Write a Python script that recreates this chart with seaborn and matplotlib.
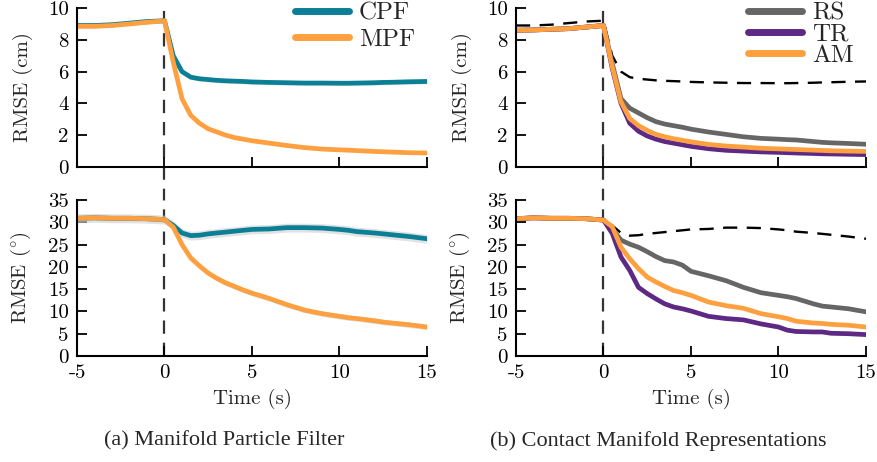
import numpy as np
import pandas as pd
import matplotlib
matplotlib.use("Agg")
import matplotlib.pyplot as plt
from matplotlib import font_manager as fm
import seaborn as sns

# time stamps (s)
t = [-5, -4, -3, -2, -1, 0, 0.5, 1, 1.5, 2, 2.5, 3, 3.5, 4, 4.5, 5, 6, 7, 8, 9,
     10, 10.5, 11, 12, 12.5, 13, 14, 15]

# position error (cm)
cpf_cm = [8.9, 8.9, 8.95, 9.05, 9.15, 9.2, 7.0, 6.0, 5.65, 5.55, 5.5, 5.45, 5.42, 5.4, 5.38, 5.35,
          5.32, 5.3, 5.28, 5.28, 5.27, 5.27, 5.28, 5.3, 5.32, 5.33, 5.36, 5.38]
mpf_cm = [8.85, 8.85, 8.9, 9.0, 9.1, 9.2, 6.6, 4.3, 3.25, 2.75, 2.4, 2.2, 2.0, 1.85, 1.75, 1.65,
          1.5, 1.35, 1.22, 1.13, 1.08, 1.06, 1.03, 0.98, 0.96, 0.94, 0.9, 0.88]
rs_cm = [8.6, 8.62, 8.66, 8.7, 8.8, 8.9, 6.5, 4.3, 3.7, 3.4, 3.1, 2.85, 2.7, 2.6, 2.5, 2.38,
         2.2, 2.05, 1.9, 1.8, 1.75, 1.72, 1.7, 1.6, 1.55, 1.52, 1.48, 1.43]
tr_cm = [8.6, 8.62, 8.66, 8.7, 8.8, 8.9, 6.2, 4.0, 2.75, 2.25, 1.95, 1.75, 1.6, 1.5, 1.4, 1.3,
         1.15, 1.05, 1.0, 0.95, 0.92, 0.9, 0.88, 0.85, 0.83, 0.82, 0.8, 0.78]
am_cm = [8.6, 8.62, 8.66, 8.7, 8.8, 8.9, 6.3, 4.1, 3.05, 2.6, 2.3, 2.05, 1.9, 1.78, 1.68, 1.58,
         1.42, 1.32, 1.25, 1.18, 1.14, 1.12, 1.1, 1.06, 1.04, 1.02, 1.0, 0.98]

# orientation error (deg)
cpf_deg = [30.9, 31.0, 30.9, 30.9, 30.8, 30.6, 29.3, 27.6, 27.0, 27.1, 27.4, 27.6, 27.8, 28.0, 28.2, 28.4,
           28.5, 28.8, 28.8, 28.7, 28.4, 28.2, 27.9, 27.6, 27.4, 27.2, 26.8, 26.3]
mpf_deg = [30.9, 31.0, 30.9, 30.9, 30.8, 30.6, 28.9, 25.0, 22.0, 20.2, 18.6, 17.4, 16.4, 15.6, 14.8, 14.1,
           12.9, 11.5, 10.3, 9.5, 8.9, 8.6, 8.4, 7.9, 7.6, 7.4, 7.0, 6.5]
rs_deg = [30.8, 31.0, 30.9, 30.9, 30.8, 30.5, 28.5, 26.0, 25.1, 24.4, 23.4, 22.3, 21.4, 21.1, 20.4, 19.0,
          18.0, 16.9, 15.4, 14.2, 13.6, 13.3, 12.9, 11.7, 11.2, 11.0, 10.6, 9.9]
tr_deg = [30.8, 31.0, 30.9, 30.9, 30.8, 30.5, 27.5, 22.2, 19.2, 15.4, 14.0, 12.8, 11.7, 11.0, 10.6, 10.1,
          8.9, 8.4, 8.1, 7.2, 6.5, 5.8, 5.5, 5.4, 5.4, 5.1, 5.0, 4.8]
am_deg = [30.8, 31.0, 30.9, 30.9, 30.8, 30.5, 29.0, 24.4, 21.8, 19.6, 17.7, 16.6, 15.6, 14.7, 14.2, 13.6,
          12.1, 11.3, 10.7, 9.5, 8.8, 8.4, 7.8, 7.4, 7.3, 7.1, 6.9, 6.5]

# half-width of the shaded band (left panels)
band_cm = [0.15, 0.1]
band_deg = [1.0, 0.6]

C_CPF = "#0b7f96"
C_MPF = "#ffa040"
C_RS = "#666666"
C_TR = "#5d2984"
C_AM = "#ffa040"

sns.set_theme(style="ticks")
plt.rcParams["font.family"] = ["cmr10", "DejaVu Serif"]
plt.rcParams["mathtext.fontset"] = "cm"
plt.rcParams["axes.unicode_minus"] = False

df = pd.DataFrame({"t": t, "cpf_cm": cpf_cm, "mpf_cm": mpf_cm, "rs_cm": rs_cm, "tr_cm": tr_cm,
                   "am_cm": am_cm, "cpf_deg": cpf_deg, "mpf_deg": mpf_deg, "rs_deg": rs_deg,
                   "tr_deg": tr_deg, "am_deg": am_deg})

fig = plt.figure(figsize=(8.78, 4.62), dpi=100)
W = 350 / 878
ax_tl = fig.add_axes([77 / 878, 1 - 167 / 462, W, 159 / 462])
ax_bl = fig.add_axes([77 / 878, 1 - 356 / 462, W, 156 / 462])
ax_tr = fig.add_axes([516 / 878, 1 - 167 / 462, W, 159 / 462])
ax_br = fig.add_axes([516 / 878, 1 - 356 / 462, W, 156 / 462])

lw = 3.4
FS = 15

# left: manifold particle filter
for ax, unit, band in [(ax_tl, "cm", band_cm), (ax_bl, "deg", band_deg)]:
    for (name, col), b in zip([("cpf", C_CPF), ("mpf", C_MPF)], band):
        y = df[f"{name}_{unit}"]
        ax.fill_between(df["t"], y - b, y + b, color="#d0d0d0", alpha=0.6, lw=0)
        sns.lineplot(data=df, x="t", y=f"{name}_{unit}", ax=ax, color=col, lw=lw,
                     label=name.upper() if unit == "cm" else None)

# right: contact manifold representations
for ax, unit in [(ax_tr, "cm"), (ax_br, "deg")]:
    sns.lineplot(data=df, x="t", y=f"cpf_{unit}", ax=ax, color="black", lw=1.7,
                 linestyle=(0, (6, 4)))
    for name, col in [("rs", C_RS), ("tr", C_TR), ("am", C_AM)]:
        sns.lineplot(data=df, x="t", y=f"{name}_{unit}", ax=ax, color=col, lw=lw,
                     label=name.upper() if unit == "cm" else None)

for ax in [ax_tl, ax_tr, ax_bl, ax_br]:
    ax.set_xlim(-5, 15)
    ax.set_xticks([-5, 0, 5, 10, 15])
    sns.despine(ax=ax)
    for s in ["left", "bottom"]:
        ax.spines[s].set_linewidth(1.5)
        ax.spines[s].set_color("black")
    ax.tick_params(direction="in", length=7, width=1.3, labelsize=FS, pad=6, colors="black")
    ax.set_xlabel("")

for ax in [ax_tl, ax_tr]:
    ax.set_ylim(0, 10)
    ax.set_yticks([0, 2, 4, 6, 8, 10])
    ax.tick_params(labelbottom=False)
    ax.set_ylabel("RMSE (cm)", fontsize=FS)
    ax.axvline(0, ymin=-0.22, ymax=1, color="#333333", lw=1.6, linestyle=(0, (6, 4)),
               clip_on=False, zorder=0)

for ax in [ax_bl, ax_br]:
    ax.set_ylim(0, 35)
    ax.set_yticks([0, 5, 10, 15, 20, 25, 30, 35])
    ax.set_ylabel(r"RMSE ($^{\circ}$)", fontsize=FS)
    ax.set_xlabel("Time (s)", fontsize=FS, labelpad=5)
    ax.axvline(0, color="#333333", lw=1.6, linestyle=(0, (6, 4)), zorder=0)

for ax in [ax_tl, ax_bl, ax_tr, ax_br]:
    ax.yaxis.set_label_coords(-0.125, 0.5)

leg = ax_tl.legend(loc="upper right", bbox_to_anchor=(1.03, 1.18), frameon=False, fontsize=18,
                   handlelength=2.15, labelspacing=0.15, handletextpad=0.4)
for h in leg.get_lines():
    h.set_linewidth(5)
leg = ax_tr.legend(loc="upper right", bbox_to_anchor=(1.03, 1.18), frameon=False, fontsize=18,
                   handlelength=2.15, labelspacing=-0.05, handletextpad=0.4)
for h in leg.get_lines():
    h.set_linewidth(5)

# captions are set in a Times-like face
cap_font = fm.FontProperties(fname=fm.findfont("Liberation Serif"), size=16)
fig.text(224 / 878, 1 - 441 / 462, "(a) Manifold Particle Filter", ha="center", va="center",
         fontproperties=cap_font)
fig.text(658 / 878, 1 - 441 / 462, "(b) Contact Manifold Representations", ha="center",
         va="center", fontproperties=cap_font)

fig.savefig("out.png", dpi=100)
